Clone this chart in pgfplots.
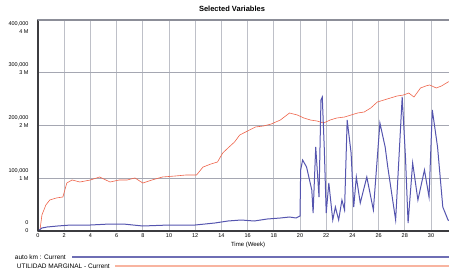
\documentclass[border=0pt]{standalone}
\usepackage{pgfplots}
\pgfplotsset{compat=1.18}
\usepackage{fontspec}
\setmainfont{Liberation Sans}
\definecolor{vblue}{RGB}{85,85,175}
\definecolor{vred}{RGB}{238,100,75}
\definecolor{lblue}{RGB}{110,110,180}
\definecolor{lred}{RGB}{248,180,160}
\definecolor{gridv}{RGB}{190,192,200}
\definecolor{gridh}{RGB}{165,167,178}
\definecolor{topline}{RGB}{140,142,152}
\definecolor{axisdark}{RGB}{60,60,64}
\begin{document}
\begin{tikzpicture}
\path[use as bounding box] (0pt,0pt) rectangle (449pt,271pt);
\begin{axis}[
  at={(38pt,40pt)}, anchor=south west, scale only axis,
  width=419.2pt, height=211pt,
  xmin=0, xmax=32, ymin=0, ymax=400000,
  axis line style={draw=topline, line width=1.5pt},
  xtick={0,2,...,32},
  xticklabels={0,2,4,6,8,10,12,14,16,18,20,22,24,26,28,30,{}},
  ytick={0,100000,200000,300000},
  yticklabels={{0\\0},{100{,}000\\1 M},{200{,}000\\2 M},{300{,}000\\3 M}},
  extra y ticks={400000},
  extra y tick labels={{400{,}000\\4 M}},
  extra y tick style={yticklabel style={yshift=-12pt}},
  yticklabel style={align=right, font=\fontsize{5.5}{8}\selectfont, xshift=-6pt, yshift=4pt},
  xticklabel style={font=\fontsize{5.5}{7}\selectfont, yshift=1pt},
  major tick length=0pt,
  xmajorgrids=true, ymajorgrids=true,
  x grid style={color=gridv, line width=0.9pt},
  y grid style={color=gridh, line width=0.9pt},
  scaled y ticks=false,
  clip=false,
]
\addplot[vred, line width=0.6pt] coordinates {
(0,0) (0.15,1900) (0.3,30300) (0.6,49300) (0.9,58800) (1.4,62600) (1.9,64500)
(2.2,91000) (2.6,96700) (3.2,92900) (4.0,96700) (4.7,102400) (5.5,92900)
(6.2,96700) (6.8,96700) (7.4,100500) (8.0,91000) (8.7,96700) (9.5,102400)
(10.5,104300) (11.3,106200) (12.1,106200) (12.6,121300) (13.2,127000)
(13.7,130800) (14.1,147900) (14.5,157300) (15.0,168700) (15.4,182000)
(16.0,189600) (16.6,197200) (17.2,199000) (17.8,202800) (18.5,210400)
(19.2,223700) (19.8,219900) (20.3,214200) (20.8,210400) (21.3,208500)
(21.8,204700) (22.3,210400) (22.8,214200) (23.4,216100) (23.9,219900)
(24.4,223700) (24.9,225600) (25.4,233200) (25.9,244500) (26.4,248300)
(26.9,252100) (27.4,255900) (27.9,257800) (28.3,261600) (28.7,254000)
(29.2,271100) (29.6,274900) (29.9,276800) (30.4,271100) (30.8,274900)
(31.3,282500) (31.6,284400) (32,286000)
};
\end{axis}
\begin{axis}[
  at={(38pt,40pt)}, anchor=south west, scale only axis,
  width=419.2pt, height=211pt,
  xmin=0, xmax=32, ymin=0, ymax=4000000,
  axis lines=none, ticks=none, clip=false,
]
\addplot[vblue, line width=1pt] coordinates {
(0,0) (0.3,56900) (0.7,75800) (1.5,94800) (2.5,113700) (4,113700)
(5.5,132700) (6.5,132700) (8,94800) (10,113700) (12,113700) (13.5,151700)
(14.5,189600) (15.5,208500) (16.5,189600) (17.5,227500) (18.5,246400)
(19.2,265400) (19.7,246400) (20.0,284400) (20.05,1156400) (20.2,1345900)
(20.5,1213200) (20.9,777200) (21.0,341200) (21.2,1592400) (21.45,644500)
(21.6,2483400) (21.7,2540200) (21.85,1592400) (22.0,341200) (22.2,909900)
(22.5,208500) (22.7,455000) (22.95,208500) (23.2,587700) (23.4,398100)
(23.6,2104200) (23.9,1478600) (24.1,455000) (24.3,1023700) (24.6,530800)
(25.1,1023700) (25.6,398100) (26.1,2047400) (26.5,1592400) (26.7,1213200)
(27.3,208500) (27.8,2540200) (28.05,1402800) (28.25,151700) (28.6,1289100)
(29.0,587700) (29.5,1156400) (29.85,644500) (30.1,2293800) (30.5,1592400)
(30.9,455000) (31.3,208500) (31.6,170600) (32,300000)
};
\draw[axisdark, line width=1.2pt] (rel axis cs:0,0) -- (rel axis cs:0,1);
\draw[axisdark, line width=1.2pt] (rel axis cs:0,0) -- (rel axis cs:1,0);
\end{axis}
\draw[topline, line width=1.5pt] (38pt,251pt) -- (449pt,251pt);
\node[font=\fontsize{7.5}{9}\selectfont\bfseries] at (232pt,262pt) {Selected Variables};
\node[font=\fontsize{6}{7}\selectfont] at (248pt,26pt) {Time (Week)};
\node[font=\fontsize{6.5}{8}\selectfont, anchor=east, inner sep=0pt] at (66pt,14pt) {auto km : Current};
\draw[lblue, line width=1.2pt] (72pt,14pt) -- (449pt,14pt);
\node[font=\fontsize{6.5}{8}\selectfont, anchor=east, inner sep=0pt] at (110pt,5pt) {UTILIDAD MARGINAL - Current};
\draw[lred, line width=1.5pt] (115pt,5pt) -- (449pt,5pt);
\end{tikzpicture}
\end{document}
